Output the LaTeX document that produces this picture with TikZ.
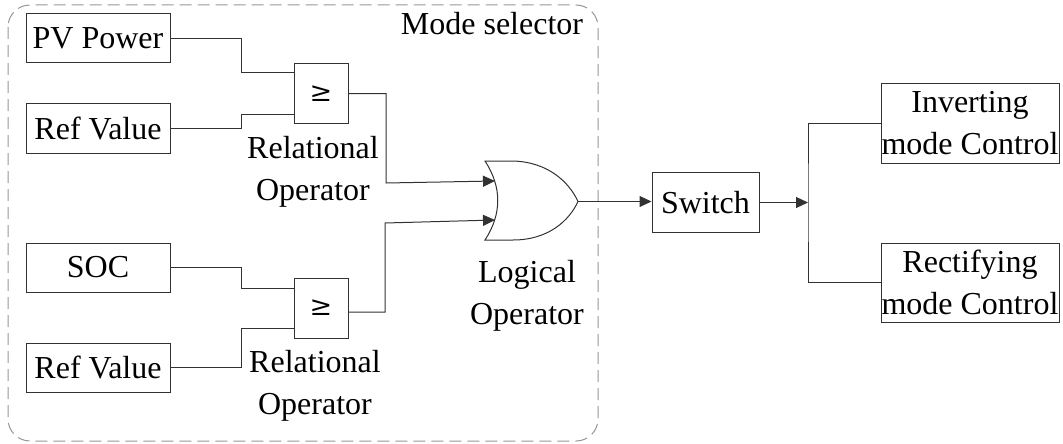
\documentclass[tikz,border=0pt]{standalone}
\usepackage{fontspec}
\newfontfamily\fa{Liberation Serif}
\newfontfamily\fsym{DejaVu Serif}
\usetikzlibrary{arrows.meta}
\definecolor{linegray}{RGB}{50,50,50}
\definecolor{dashgray}{RGB}{150,150,150}
\tikzset{
  txt/.style={font=\fa\fontsize{32}{42}\selectfont, inner sep=0pt},
  blk/.style={txt, draw=linegray, line width=1pt, rectangle},
  relbox/.style={blk, font=\fsym\fontsize{27}{32}\selectfont, minimum width=54pt},
  wire/.style={draw=linegray, line width=1pt},
  arr/.style={wire, -{Triangle[length=12pt,width=11pt]}},
  lbl/.style={txt, align=center}
}
\begin{document}
\begin{tikzpicture}[x=1pt,y=-1pt]
\useasboundingbox (0,0) rectangle (1063,444);
% dashed mode selector frame
\draw[dashgray, line width=1pt, dash pattern=on 12pt off 6pt, rounded corners=22pt] (8,5) rectangle (598,441);
\node[txt, anchor=base] (modesel) at (492,35) {Mode selector};

% input blocks
\node[blk, minimum width=144pt, minimum height=49pt] (pv) at (98,38.5) {PV Power};
\node[blk, minimum width=144pt, minimum height=50pt] (ref1) at (98,128) {Ref Value};
\node[blk, minimum width=144pt, minimum height=49pt] (soc) at (98,267.5) {SOC};
\node[blk, minimum width=144pt, minimum height=49pt] (ref2) at (98,367.5) {Ref Value};

% relational operators
\node[relbox, minimum height=59pt] (rel1) at (321,93.5) {≥};
\node[relbox, minimum height=60pt] (rel2) at (321,308) {≥};
\node[lbl] (rel1l) at (313,172) {Relational\\Operator};
\node[lbl] (rel2l) at (315,386) {Relational\\Operator};

% OR gate
\draw[draw=linegray, line width=1pt] (485,161) -- (513,161)
  .. controls (548,162) and (569,182) .. (578,201.5)
  .. controls (569,221) and (548,240) .. (513,240)
  -- (485,240)
  .. controls (502,214) and (502,187) .. (485,161) -- cycle;
\coordinate (orin1) at (495,181);
\coordinate (orin2) at (495,220);
\coordinate (orout) at (578,201.5);
\node[lbl] (logl) at (527,296) {Logical\\Operator};

% switch and controls
\node[blk, minimum width=107pt, minimum height=60pt] (switch) at (705.5,202.5) {Switch};
\node[blk, align=center, minimum width=178pt, minimum height=79pt] (inv) at (970,123.5) {Inverting\\mode Control};
\node[blk, align=center, minimum width=178pt, minimum height=79pt] (rect) at (970,282.5) {Rectifying\\mode Control};
\coordinate (split) at (808,202.5);

% wires
\draw[wire] (pv.east) -- (241,38.5) |- ([yshift=20.5pt]rel1.west);
\draw[wire] (ref1.east) -- (241,128) |- ([yshift=-20.5pt]rel1.west);
\draw[wire] (soc.east) -- (241,267.5) |- ([yshift=20pt]rel2.west);
\draw[wire] (ref2.east) -- (241,367.5) |- ([yshift=-20pt]rel2.west);
\draw[arr] (rel1.east) -- (386,93.5) -- (386,183) -- (orin1);
\draw[arr] ([yshift=-4pt]rel2.east) -- (385,312) -- (385,223) -- (orin2);
\draw[arr] (orout) -- (orout -| switch.west);
\draw[arr] (switch.east) -- (split);
\draw[wire] (inv.west) -| (split) |- (rect.west);
\end{tikzpicture}
\end{document}
